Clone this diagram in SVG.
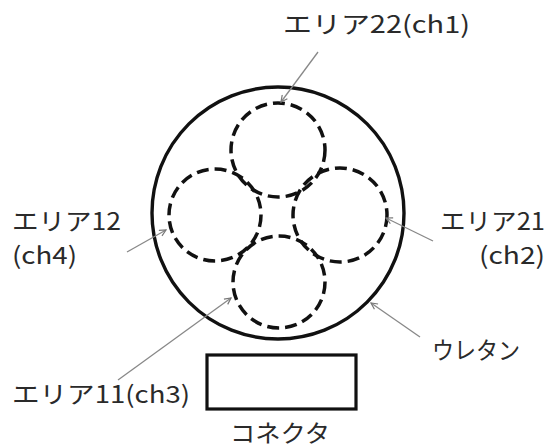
<svg xmlns="http://www.w3.org/2000/svg" width="554" height="448" viewBox="0 0 554 448">
<defs>
<style>
.lbl{font-family:"Noto Sans CJK JP","Noto Sans",sans-serif;font-size:24px;fill:#2a2a2a}
.outer{fill:none;stroke:#111;stroke-width:3.4}
.dash{fill:none;stroke:#111;stroke-width:3.5;stroke-dasharray:12 6}
.lead{fill:none;stroke:#888;stroke-width:1.3;marker-end:url(#ah)}
</style>
<marker id="ah" viewBox="0 0 10 10" refX="9" refY="5" markerWidth="8" markerHeight="8" markerUnits="userSpaceOnUse" orient="auto">
<path d="M1,1 L9,5 L1,9" fill="none" stroke="#777" stroke-width="1.5"/>
</marker>
</defs>
<g id="urethane"><circle class="outer" cx="278" cy="213" r="126"/></g>
<g id="area22"><circle class="dash" cx="278" cy="150" r="47"/></g>
<g id="area12"><circle class="dash" cx="215" cy="215" r="46"/></g>
<g id="area21"><circle class="dash" cx="340" cy="215" r="47"/></g>
<g id="area11"><circle class="dash" cx="279" cy="282" r="46"/></g>
<g id="connector"><rect x="207" y="355" width="149" height="54" fill="none" stroke="#111" stroke-width="3.2"/></g>
<g id="connectors">
<line class="lead" x1="318" y1="52" x2="281" y2="102"/>
<line class="lead" x1="127" y1="252" x2="166" y2="230"/>
<line class="lead" x1="433" y1="241" x2="386" y2="218"/>
<line class="lead" x1="420" y1="337" x2="371" y2="303"/>
<line class="lead" x1="118" y1="380" x2="231" y2="298"/>
</g>
<g id="labels">
<text class="lbl" x="283" y="33" textLength="187" lengthAdjust="spacingAndGlyphs">エリア22(ch1)</text>
<text class="lbl" x="12" y="230" textLength="109" lengthAdjust="spacingAndGlyphs">エリア12</text>
<text class="lbl" x="12" y="264" textLength="65" lengthAdjust="spacingAndGlyphs">(ch4)</text>
<text class="lbl" x="440" y="230" textLength="105" lengthAdjust="spacingAndGlyphs">エリア21</text>
<text class="lbl" x="479" y="264" textLength="66" lengthAdjust="spacingAndGlyphs">(ch2)</text>
<text class="lbl" x="432" y="359" textLength="88" lengthAdjust="spacingAndGlyphs">ウレタン</text>
<text class="lbl" x="12" y="403" textLength="178" lengthAdjust="spacingAndGlyphs">エリア11(ch3)</text>
<text class="lbl" x="230" y="442" textLength="100" lengthAdjust="spacingAndGlyphs">コネクタ</text>
</g>
</svg>
